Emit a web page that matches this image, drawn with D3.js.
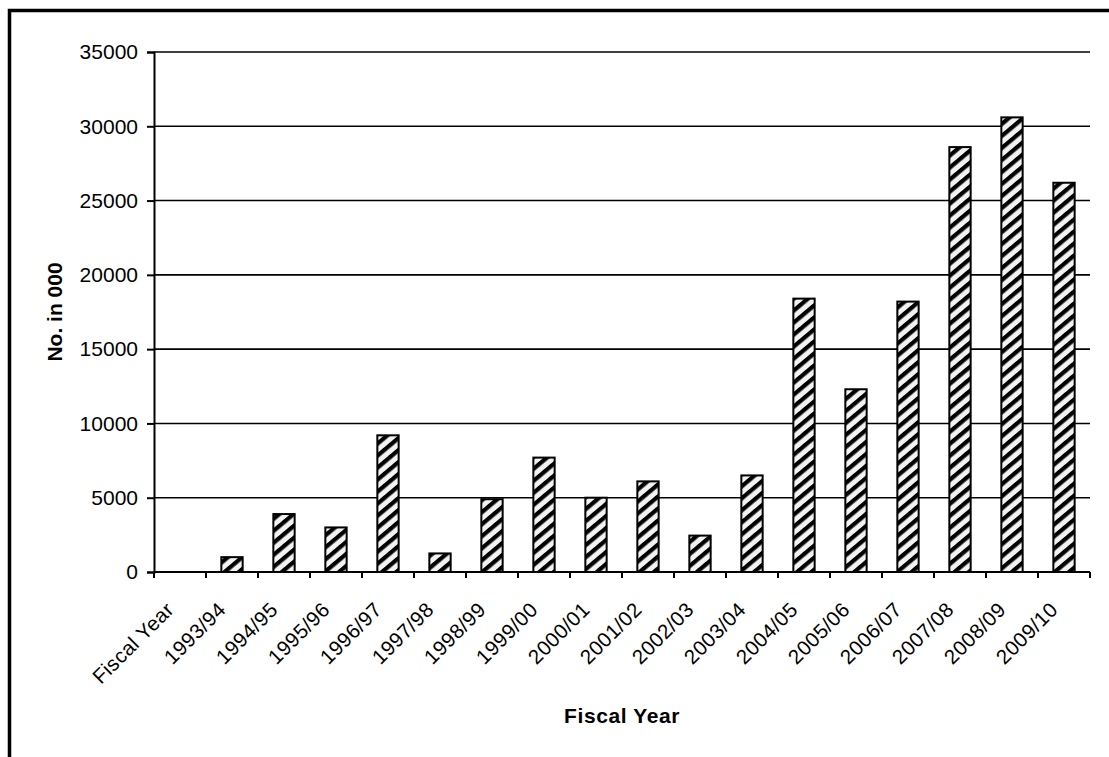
<!DOCTYPE html>
<html>
<head>
<meta charset="utf-8">
<script src="https://cdn.jsdelivr.net/npm/d3@7"></script>
<style>
  html, body { margin: 0; padding: 0; background: #fff; }
  svg { display: block; }
  text { font-family: "Liberation Sans", Arial, sans-serif; fill: #000; }
</style>
</head>
<body>
<svg id="chart" width="1109" height="757"></svg>
<script>
// Fiscal years on the category axis (first slot is the axis caption itself, with no bar)
const categories = ["Fiscal Year", "1993/94", "1994/95", "1995/96", "1996/97", "1997/98",
  "1998/99", "1999/00", "2000/01", "2001/02", "2002/03", "2003/04", "2004/05",
  "2005/06", "2006/07", "2007/08", "2008/09", "2009/10"];
// Numbers, in thousands
const values = [null, 1000, 3900, 3000, 9200, 1250, 4900, 7700, 5000, 6100, 2450,
  6500, 18400, 12300, 18200, 28600, 30600, 26200];
const yTicks = [0, 5000, 10000, 15000, 20000, 25000, 30000, 35000];
const xTitle = "Fiscal Year";
const yTitle = "No. in 000";

const svg = d3.select("#chart");
const W = 1109, H = 757;
const margin = { left: 154, right: 19, top: 52, bottom: 185 };
const plotW = W - margin.left - margin.right;
const plotH = H - margin.top - margin.bottom;

// outer frame
svg.append("rect")
  .attr("x", 9.5).attr("y", 10.5)
  .attr("width", W + 20).attr("height", H + 20)
  .attr("fill", "none").attr("stroke", "#000").attr("stroke-width", 3.5);

// diagonal hatch fill
const defs = svg.append("defs");
const pat = defs.append("pattern")
  .attr("id", "hatch")
  .attr("patternUnits", "userSpaceOnUse")
  .attr("width", 10).attr("height", 9.2)
  .attr("patternTransform", "rotate(-40)");
pat.append("rect").attr("width", 10).attr("height", 9.2).attr("fill", "#f2f2f2");
pat.append("rect").attr("y", 0).attr("width", 10).attr("height", 4.2).attr("fill", "#000");

const g = svg.append("g").attr("transform", `translate(${margin.left},${margin.top})`);

const x = d3.scaleBand().domain(categories).range([0, plotW]).paddingInner(0).paddingOuter(0);
const y = d3.scaleLinear().domain([0, 35000]).range([plotH, 0]);

// horizontal gridlines
g.append("g").selectAll("line").data(yTicks.filter(d => d > 0)).join("line")
  .attr("x1", 0).attr("x2", plotW)
  .attr("y1", d => y(d)).attr("y2", d => y(d))
  .attr("stroke", "#000").attr("stroke-width", 1.6);

// y axis
const yAxis = g.append("g")
  .call(d3.axisLeft(y).tickValues(yTicks).tickSize(7).tickPadding(9).tickFormat(d3.format("d")));
yAxis.select(".domain").attr("stroke-width", 2);
yAxis.selectAll(".tick line").attr("stroke-width", 2);
yAxis.selectAll(".tick text").attr("font-size", 21).attr("font-family", "Liberation Sans, Arial, sans-serif");

// bars
const barW = x.bandwidth() * 0.41;
g.append("g").selectAll("rect")
  .data(categories.map((c, i) => ({ c, v: values[i] })).filter(d => d.v != null))
  .join("rect")
  .attr("x", d => x(d.c) + (x.bandwidth() - barW) / 2)
  .attr("y", d => y(d.v))
  .attr("width", barW)
  .attr("height", d => y(0) - y(d.v))
  .attr("fill", "url(#hatch)")
  .attr("stroke", "#000").attr("stroke-width", 2);

// x axis: ticks at category boundaries
const xg = g.append("g").attr("transform", `translate(0,${plotH})`);
xg.append("line").attr("x1", 0).attr("x2", plotW).attr("y1", 0).attr("y2", 0)
  .attr("stroke", "#000").attr("stroke-width", 2);
const bounds = categories.map(c => x(c)).concat([plotW]);
xg.selectAll("line.tk").data(bounds).join("line").attr("class", "tk")
  .attr("x1", d => d).attr("x2", d => d).attr("y1", 0).attr("y2", 6)
  .attr("stroke", "#000").attr("stroke-width", 2);
xg.selectAll("text.cat").data(categories).join("text").attr("class", "cat")
  .attr("transform", d => `translate(${x(d) + x.bandwidth() / 2 - 5},${39}) rotate(-45)`)
  .attr("text-anchor", "end")
  .attr("font-size", 20.5)
  .attr("letter-spacing", 0.4)
  .text(d => d);

// axis titles
svg.append("text")
  .attr("x", margin.left + plotW / 2).attr("y", 723)
  .attr("text-anchor", "middle").attr("font-size", 21).attr("font-weight", "bold")
  .attr("letter-spacing", 0.6)
  .text(xTitle);
svg.append("text")
  .attr("transform", `translate(62,${margin.top + plotH / 2}) rotate(-90)`)
  .attr("text-anchor", "middle").attr("font-size", 21).attr("font-weight", "bold")
  .text(yTitle);
</script>
</body>
</html>
